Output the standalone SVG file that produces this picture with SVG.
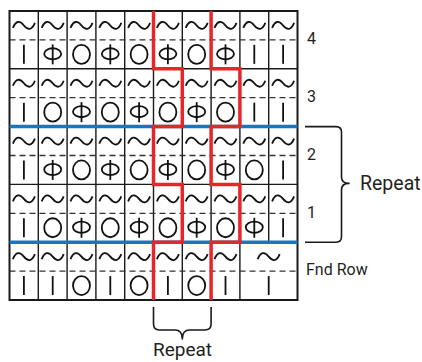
<svg xmlns="http://www.w3.org/2000/svg" xmlns:xlink="http://www.w3.org/1999/xlink" width="422" height="362" viewBox="0 0 422 362">
<style>
.g{stroke:#1a1a1a;stroke-width:1.4;fill:none}
.b{stroke:#1a1a1a;stroke-width:2;fill:none}
.d{stroke:#333;stroke-width:1.3;stroke-dasharray:6 4;fill:none}
.s{stroke:#111;stroke-width:1.8;fill:none}
.blue{stroke:#1b75bb;stroke-width:3.5;fill:none}
.red{stroke:#e5262a;stroke-width:3.5;fill:none;stroke-linejoin:miter}
.br{stroke:#1a1a1a;stroke-width:1.6;fill:none;stroke-linejoin:round}
.t{font-family:Roboto,"Liberation Sans",sans-serif;fill:#231f20}
</style>
<defs>
<path id="T" class="s" d="M-11,2.5 C-8,-5 -4,-5 0,0 S8,5 11,-2.5"/>
<line id="I" class="s" x1="0" y1="-9.5" x2="0" y2="9.5"/>
<ellipse id="O" class="s" cx="0" cy="0" rx="8.5" ry="9.5"/>
<g id="P" class="s"><ellipse cx="0" cy="-0.5" rx="8.5" ry="5.6"/><line x1="0" y1="-10" x2="0" y2="10"/></g>
</defs>
<rect width="422" height="362" fill="#fff"/>
<g id="grid">
<path class="g" d="M38.3,11V300M67.1,11V300M95.9,11V300M124.7,11V300M153.5,11V300M182.3,11V300M211.1,11V300M239.9,11V300M268.7,11V242.2M9.5,68.8H297.5M9.5,184.4H297.5"/>
<path class="d" d="M9.5,39.9H297.5M9.5,97.7H297.5M9.5,155.5H297.5M9.5,213.3H297.5M9.5,271.1H297.5"/>
<rect class="b" x="9.5" y="11" width="288" height="289"/>
</g>
<g id="tildes">
<use href="#T" x="23.9" y="25.45"/><use href="#T" x="52.7" y="25.45"/><use href="#T" x="81.5" y="25.45"/><use href="#T" x="110.3" y="25.45"/><use href="#T" x="139.1" y="25.45"/><use href="#T" x="167.9" y="25.45"/><use href="#T" x="196.7" y="25.45"/><use href="#T" x="225.5" y="25.45"/><use href="#T" x="254.3" y="25.45"/><use href="#T" x="283.1" y="25.45"/>
<use href="#T" x="23.9" y="83.25"/><use href="#T" x="52.7" y="83.25"/><use href="#T" x="81.5" y="83.25"/><use href="#T" x="110.3" y="83.25"/><use href="#T" x="139.1" y="83.25"/><use href="#T" x="167.9" y="83.25"/><use href="#T" x="196.7" y="83.25"/><use href="#T" x="225.5" y="83.25"/><use href="#T" x="254.3" y="83.25"/><use href="#T" x="283.1" y="83.25"/>
<use href="#T" x="23.9" y="141.05"/><use href="#T" x="52.7" y="141.05"/><use href="#T" x="81.5" y="141.05"/><use href="#T" x="110.3" y="141.05"/><use href="#T" x="139.1" y="141.05"/><use href="#T" x="167.9" y="141.05"/><use href="#T" x="196.7" y="141.05"/><use href="#T" x="225.5" y="141.05"/><use href="#T" x="254.3" y="141.05"/><use href="#T" x="283.1" y="141.05"/>
<use href="#T" x="23.9" y="198.85"/><use href="#T" x="52.7" y="198.85"/><use href="#T" x="81.5" y="198.85"/><use href="#T" x="110.3" y="198.85"/><use href="#T" x="139.1" y="198.85"/><use href="#T" x="167.9" y="198.85"/><use href="#T" x="196.7" y="198.85"/><use href="#T" x="225.5" y="198.85"/><use href="#T" x="254.3" y="198.85"/><use href="#T" x="283.1" y="198.85"/>
<use href="#T" x="23.9" y="256.65"/><use href="#T" x="52.7" y="256.65"/><use href="#T" x="81.5" y="256.65"/><use href="#T" x="110.3" y="256.65"/><use href="#T" x="139.1" y="256.65"/><use href="#T" x="167.9" y="256.65"/><use href="#T" x="196.7" y="256.65"/><use href="#T" x="225.5" y="256.65"/><use href="#T" x="268.7" y="256.65"/>
</g>
<g id="row4">
<use href="#I" x="23.9" y="54.35"/><use href="#P" x="52.7" y="54.35"/><use href="#O" x="81.5" y="54.35"/><use href="#P" x="110.3" y="54.35"/><use href="#O" x="139.1" y="54.35"/><use href="#P" x="167.9" y="54.35"/><use href="#O" x="196.7" y="54.35"/><use href="#P" x="225.5" y="54.35"/><use href="#I" x="254.3" y="54.35"/><use href="#I" x="283.1" y="54.35"/>
</g>
<g id="row3">
<use href="#I" x="23.9" y="112.15"/><use href="#O" x="52.7" y="112.15"/><use href="#P" x="81.5" y="112.15"/><use href="#O" x="110.3" y="112.15"/><use href="#P" x="139.1" y="112.15"/><use href="#O" x="167.9" y="112.15"/><use href="#P" x="196.7" y="112.15"/><use href="#O" x="225.5" y="112.15"/><use href="#I" x="254.3" y="112.15"/><use href="#I" x="283.1" y="112.15"/>
</g>
<g id="row2">
<use href="#I" x="23.9" y="169.95"/><use href="#P" x="52.7" y="169.95"/><use href="#O" x="81.5" y="169.95"/><use href="#P" x="110.3" y="169.95"/><use href="#O" x="139.1" y="169.95"/><use href="#P" x="167.9" y="169.95"/><use href="#O" x="196.7" y="169.95"/><use href="#P" x="225.5" y="169.95"/><use href="#O" x="254.3" y="169.95"/><use href="#I" x="283.1" y="169.95"/>
</g>
<g id="row1">
<use href="#I" x="23.9" y="227.75"/><use href="#O" x="52.7" y="227.75"/><use href="#P" x="81.5" y="227.75"/><use href="#O" x="110.3" y="227.75"/><use href="#P" x="139.1" y="227.75"/><use href="#O" x="167.9" y="227.75"/><use href="#P" x="196.7" y="227.75"/><use href="#O" x="225.5" y="227.75"/><use href="#P" x="254.3" y="227.75"/><use href="#I" x="283.1" y="227.75"/>
</g>
<g id="fndrow">
<use href="#I" x="23.9" y="285.55"/><use href="#I" x="52.7" y="285.55"/><use href="#O" x="81.5" y="285.55"/><use href="#I" x="110.3" y="285.55"/><use href="#O" x="139.1" y="285.55"/><use href="#I" x="167.9" y="285.55"/><use href="#O" x="196.7" y="285.55"/><use href="#I" x="225.5" y="285.55"/><use href="#I" x="268.7" y="285.55"/>
</g>
<g id="markers">
<path class="blue" d="M9.5,126.6H297.5M9.5,242.2H297.5"/>
<path class="red" d="M153.5,11V68.8H182.3V126.6H153.5V184.4H182.3V242.2H153.5V300"/>
<path class="red" d="M211.1,11V68.8H239.9V126.6H211.1V184.4H239.9V242.2H211.1V300"/>
</g>
<g id="braces">
<path class="br" d="M305,126.6H336Q341.5,126.6 341.5,132V177Q341.5,183.4 349,183.4Q341.5,183.4 341.5,190V236.8Q341.5,242.2 336,242.2H305"/>
<path class="br" d="M153.5,307V324Q153.5,330 159.5,330H175Q182.3,330 182.3,339Q182.3,330 189.6,330H205Q211.1,330 211.1,324V307"/>
</g>
<g id="labels" class="t">
<text x="307" y="44" font-size="16">4</text>
<text x="307" y="102" font-size="16">3</text>
<text x="307" y="160" font-size="16">2</text>
<text x="307" y="218" font-size="16">1</text>
<text x="306" y="275" font-size="16">Fnd Row</text>
<text x="360" y="190" font-size="19.5">Repeat</text>
<text x="153" y="356" font-size="19">Repeat</text>
</g>
</svg>
